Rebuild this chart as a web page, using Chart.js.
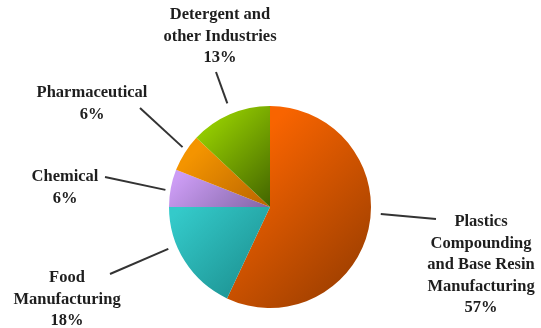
<!DOCTYPE html>
<html>
<head>
<meta charset="utf-8">
<script src="https://cdn.jsdelivr.net/npm/chart.js@4"></script>
<style>
  html, body { margin: 0; padding: 0; background: #fff; }
  #wrap { width: 541px; height: 328px; }
</style>
</head>
<body>
<div id="wrap"><canvas id="pie"></canvas></div>
<script>
// datos del gráfico
const categories = [
    'Plastics Compounding and Base Resin Manufacturing',
    'Food Manufacturing',
    'Chemical',
    'Pharmaceutical',
    'Detergent and other Industries'
];
const shares = [57, 18, 6, 6, 13];
const labelLines = [
    ['Plastics', 'Compounding', 'and Base Resin', 'Manufacturing'],
    ['Food', 'Manufacturing'],
    ['Chemical'],
    ['Pharmaceutical'],
    ['Detergent and', 'other Industries']
];

// colores: claro / oscuro y posición del degradado
const sliceStyles = [
    { light: '#f86400', dark: '#9c3e00', from: 0.3, to: 0.92 },
    { light: '#34caca', dark: '#1c9090', from: 0.28, to: 0.68 },
    { light: '#cc9cf4', dark: '#7c62a0', from: 0.2, to: 0.52 },
    { light: '#f49400', dark: '#b86400', from: 0.18, to: 0.5 },
    { light: '#94cc00', dark: '#426400', from: 0.14, to: 0.5 }
];

// posición de cada etiqueta (centro de texto, primera línea) y extremo de la guía
const labelLayout = [
    { x: 481, y: 222, lineTo: [436, 219], shift: -9, gap: 10 },
    { x: 67,  y: 278, lineTo: [110, 274], shift: 10, gap: 9 },
    { x: 65,  y: 177, lineTo: [105, 177], shift: -1.5, gap: 5 },
    { x: 92,  y: 93,  lineTo: [140, 108], shift: 2, gap: 5 },
    { x: 220, y: 15,  lineTo: [216, 72],  shift: 1, gap: 11 }
];

const lineHeight = 21.5;

function sliceFill(context) {
    const chart = context.chart;
    const area = chart.chartArea;
    const style = sliceStyles[context.dataIndex];
    if (!area) return style.light;
    const g = chart.ctx.createLinearGradient(area.left, area.top, area.right, area.bottom);
    g.addColorStop(style.from, style.light);
    g.addColorStop(style.to, style.dark);
    return g;
}

const calloutPlugin = {
    id: 'callouts',
    afterDatasetsDraw(chart) {
        const ctx = chart.ctx;
        const arcs = chart.getDatasetMeta(0).data;
        ctx.save();
        arcs.forEach((arc, i) => {
            const lay = labelLayout[i];
            const mid = (arc.startAngle + arc.endAngle) / 2 + lay.shift * Math.PI / 180;
            const r = arc.outerRadius + lay.gap;
            const x0 = arc.x + Math.cos(mid) * r;
            const y0 = arc.y + Math.sin(mid) * r;

            ctx.strokeStyle = '#333';
            ctx.lineWidth = 2;
            ctx.beginPath();
            ctx.moveTo(x0, y0);
            ctx.lineTo(lay.lineTo[0], lay.lineTo[1]);
            ctx.stroke();

            ctx.fillStyle = '#1e1e1e';
            ctx.font = 'bold 16.5px "Liberation Serif", "Times New Roman", serif';
            ctx.textAlign = 'center';
            ctx.textBaseline = 'middle';
            const lines = labelLines[i].concat([shares[i] + '%']);
            lines.forEach((t, k) => {
                ctx.fillText(t, lay.x, lay.y + k * lineHeight);
            });
        });
        ctx.restore();
    }
};

new Chart(document.getElementById('pie'), {
    type: 'pie',
    data: {
        labels: categories,
        datasets: [{
            data: shares,
            backgroundColor: sliceFill,
            borderWidth: 0
        }]
    },
    options: {
        responsive: true,
        maintainAspectRatio: false,
        animation: false,
        layout: { padding: { top: 106, bottom: 20, left: 169, right: 170 } },
        plugins: {
            legend: { display: false },
            tooltip: { enabled: false }
        }
    },
    plugins: [calloutPlugin]
});
</script>
</body>
</html>
